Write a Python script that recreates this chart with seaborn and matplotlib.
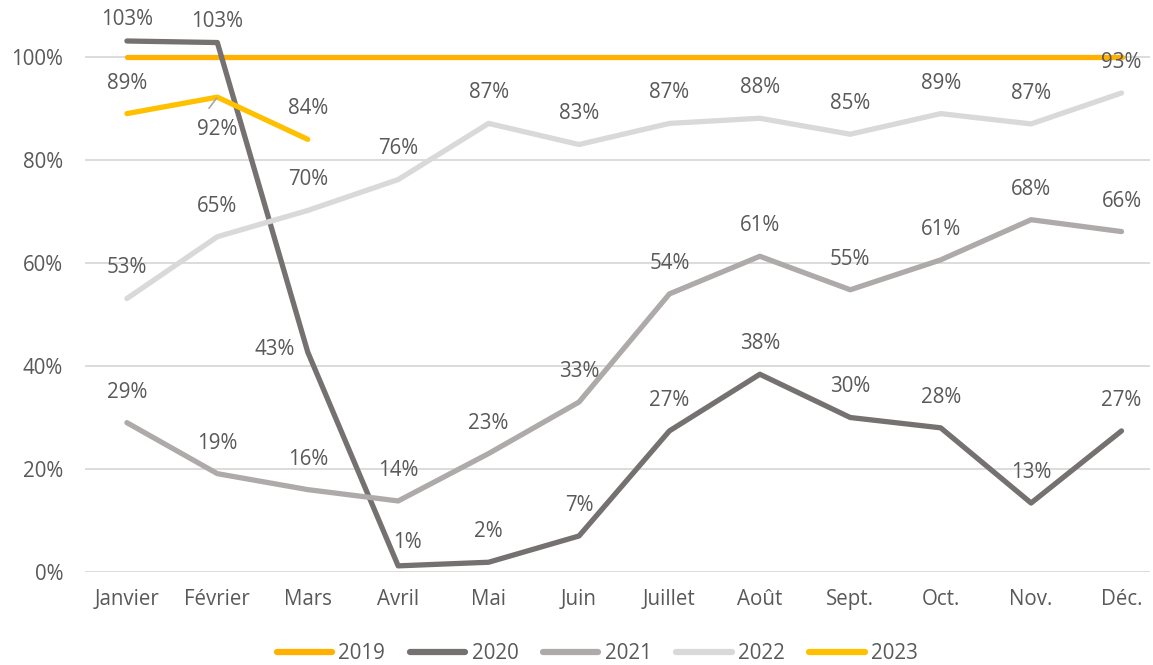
import matplotlib
matplotlib.use("Agg")
import matplotlib.pyplot as plt
import seaborn as sns
import pandas as pd
import numpy as np

# Data (%)
months = ['Janvier', 'Février', 'Mars', 'Avril', 'Mai', 'Juin',
          'Juillet', 'Août', 'Sept.', 'Oct.', 'Nov.', 'Déc.']
y2019 = [100] * 12
y2020 = [103.1, 102.8, 42.7, 1.2, 1.9, 7.0, 27.4, 38.4, 30.0, 28.0, 13.4, 27.4]
y2021 = [29.0, 19.1, 16.0, 13.8, 23.0, 33.0, 54.0, 61.3, 54.8, 60.6, 68.4, 66.1]
y2022 = [53.1, 65.1, 70.2, 76.2, 87.1, 83.0, 87.1, 88.1, 85.0, 89.0, 87.0, 93.0]
y2023 = [89.0, 92.2, 84.0]

years = ['2019', '2020', '2021', '2022', '2023']
colors = ['#FFB000', '#767171', '#AEAAAA', '#D9D9D9', '#FFC000']
text_col = '#595959'

rows = []
for yr, vals in zip(years, [y2019, y2020, y2021, y2022, y2023]):
    for i, v in enumerate(vals):
        rows.append({'month': i, 'value': v, 'year': yr})
df = pd.DataFrame(rows)

sns.set_theme(style='white')
plt.rcParams['font.family'] = ['Open Sans', 'DejaVu Sans']

fig = plt.figure(figsize=(11.53, 6.65), dpi=100)
ax = fig.add_axes([0.074, 0.1398, 0.923, 0.852])

sns.lineplot(data=df, x='month', y='value', hue='year', palette=colors,
             linewidth=3.8, ax=ax, legend=False, solid_capstyle='round')

ax.set_xlim(-0.46, 11.31)
ax.set_ylim(0, 110)
ax.set_yticks(range(0, 101, 20))
ax.set_yticklabels([f'{t}%' for t in range(0, 101, 20)])
ax.set_xticks(range(12))
ax.set_xticklabels(months)
ax.tick_params(axis='both', colors=text_col, labelsize=14.8, length=0)
ax.tick_params(axis='x', pad=12)
ax.tick_params(axis='y', pad=16)
ax.set_xlabel('')
ax.set_ylabel('')
for s in ax.spines.values():
    s.set_visible(False)
for t in range(0, 101, 20):
    ax.axhline(t, color='#D9D9D9', linewidth=1.3, zorder=0)

# Data labels
def put(x, v, dx=0, dy=22, **kw):
    ax.annotate(f'{v:.0f}%', (x, v), xytext=(dx, dy), textcoords='offset points',
                ha='center', va='center', fontsize=14.8, color=text_col, **kw)

for series in [y2020, y2021, y2022, y2023]:
    for i, v in enumerate(series):
        if series is y2020 and i in (0, 1):
            put(i, v, dy=15.5)
        elif series is y2020 and i == 2:
            put(i, v, dx=-24, dy=2)
        elif series is y2020 and i == 3:
            put(i, v, dx=7, dy=17)
        elif series is y2023 and i == 1:
            put(i, v, dy=-23)
        else:
            put(i, v)

# small leader line for the 92% label
ax.annotate('', xy=(1, y2023[1]), xytext=(-6, -8), textcoords='offset points',
            arrowprops=dict(arrowstyle='-', color='#A6A6A6', lw=1.2,
                            shrinkA=0, shrinkB=1))

handles = [plt.Line2D([0], [0], color=c, lw=4.5, solid_capstyle='round') for c in colors]
leg = fig.legend(handles, years, loc='lower center', ncol=5, frameon=False,
                 bbox_to_anchor=(0.518, -0.027), fontsize=14.8, handlelength=2.7,
                 handletextpad=0.3, columnspacing=1.2)
for t in leg.get_texts():
    t.set_color(text_col)

fig.savefig('out.png', dpi=100)
